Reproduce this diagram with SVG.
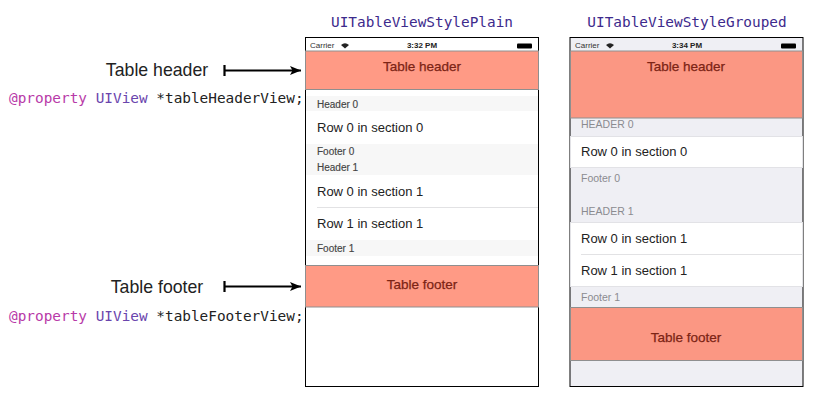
<svg xmlns="http://www.w3.org/2000/svg" width="832" height="402" viewBox="0 0 832 402">
<style>
text{font-family:"Liberation Sans",Arial,sans-serif}
.title{font-family:"DejaVu Sans Mono",monospace;font-size:14.4px;fill:#3d2a8c}
.code{font-family:"DejaVu Sans Mono",monospace;font-size:14.4px;fill:#222}
.kw{fill:#b83aa8}.ty{fill:#6a45ad}
.label{font-size:17.700px;fill:#222;text-anchor:middle}
.frame{fill:#fff;stroke:#000;stroke-width:1}
.tv{fill:#ff9a85;stroke:#8f8f8f;stroke-width:1}
.tvg{fill:#fb9783;stroke:#8f8f8f;stroke-width:1}
.tvt{font-size:13.500px;fill:#7c2415;text-anchor:middle;stroke:#7c2415;stroke-width:.25}
.row{font-size:13px;fill:#222}
.hp{font-size:10px;fill:#444;stroke:#444;stroke-width:.15}
.hg{font-size:10.500px;fill:#8b8b90}
.st{font-size:8px;fill:#333}
.stb{font-size:8px;font-weight:bold;fill:#222;text-anchor:middle}
.band{fill:#f7f7f7}
.sep{stroke:#e2e2e4;stroke-width:1}
.conn{stroke:#000;stroke-width:2.200;fill:none;marker-end:url(#arrow)}
.tick{stroke:#000;stroke-width:2.200;fill:none}
</style>
<defs>
<marker id="arrow" markerUnits="userSpaceOnUse" markerWidth="12" markerHeight="12" refX="11" refY="6" orient="auto"><path d="M0 1.500 L11 6 L0 10.500 L2.500 6 Z" fill="#000"/></marker>
</defs>
<text class="title" x="422" y="27" text-anchor="middle">UITableViewStylePlain</text>
<text class="title" x="687" y="27" text-anchor="middle">UITableViewStyleGrouped</text>
<g id="plain-phone">
<rect class="frame" x="305.500" y="37.500" width="233" height="349"/>
<text class="st" x="310" y="48">Carrier</text>
<path d="M341 45q4-3.500 8 0l-4 3.500z" fill="#222"/>
<text class="stb" x="422" y="48">3:32 PM</text>
<rect x="517" y="43.500" width="15" height="5" rx="1" fill="#000"/>
</g>
<g id="plain-table-header"><rect class="tv" x="305.500" y="51" width="233" height="38.500"/><text class="tvt" x="422" y="71">Table header</text></g>
<g id="plain-section-0">
<rect class="band" x="306" y="96" width="232" height="15"/>
<text class="hp" x="317" y="108">Header 0</text>
<text class="row" x="317" y="132">Row 0 in section 0</text>
<rect class="band" x="306" y="144" width="232" height="31"/>
<text class="hp" x="317" y="155">Footer 0</text>
</g>
<g id="plain-section-1">
<text class="hp" x="317" y="171">Header 1</text>
<text class="row" x="317" y="196">Row 0 in section 1</text>
<line class="sep" x1="317" y1="207.500" x2="538" y2="207.500"/>
<text class="row" x="317" y="228">Row 1 in section 1</text>
<rect class="band" x="306" y="240" width="232" height="16"/>
<text class="hp" x="317" y="252">Footer 1</text>
</g>
<g id="plain-table-footer"><rect class="tv" x="305.500" y="265.500" width="233" height="41.500"/><text class="tvt" x="422" y="289">Table footer</text></g>
<g id="grouped-phone">
<rect class="frame" x="570" y="37.500" width="233" height="349" style="fill:#efeff4"/>
<text class="st" x="575" y="48">Carrier</text>
<path d="M606 45q4-3.500 8 0l-4 3.500z" fill="#222"/>
<text class="stb" x="687" y="48">3:34 PM</text>
<rect x="781" y="43.500" width="15" height="5" rx="1" fill="#000"/>
</g>
<g id="grouped-table-header"><rect class="tvg" x="570.500" y="51" width="232" height="67"/><text class="tvt" x="686" y="71">Table header</text></g>
<g id="grouped-section-0">
<text class="hg" x="581" y="128">HEADER 0</text>
<rect x="570.500" y="136.500" width="232" height="31" fill="#fff" stroke="#e2e2e6"/>
<text class="row" x="581" y="156">Row 0 in section 0</text>
<text class="hg" x="581" y="182">Footer 0</text>
</g>
<g id="grouped-section-1">
<text class="hg" x="581" y="215">HEADER 1</text>
<rect x="570.500" y="222.500" width="232" height="64" fill="#fff" stroke="#e2e2e6"/>
<text class="row" x="581" y="243">Row 0 in section 1</text>
<line class="sep" x1="581" y1="254.500" x2="802" y2="254.500"/>
<text class="row" x="581" y="275">Row 1 in section 1</text>
<text class="hg" x="581" y="301">Footer 1</text>
</g>
<g id="grouped-table-footer"><rect class="tvg" x="570.500" y="307.500" width="232" height="53"/><text class="tvt" x="686" y="342">Table footer</text></g>
<g id="annotation-header">
<text class="label" x="157" y="76">Table header</text>
<text class="code" x="9" y="103"><tspan class="kw">@property</tspan> <tspan class="ty">UIView</tspan> *tableHeaderView;</text>
</g>
<g id="annotation-footer">
<text class="label" x="157" y="293">Table footer</text>
<text class="code" x="9" y="321"><tspan class="kw">@property</tspan> <tspan class="ty">UIView</tspan> *tableFooterView;</text>
</g>
<g id="connectors">
<path class="tick" d="M224.500 65V76"/>
<path class="conn" d="M225 70.500H301"/>
<path class="tick" d="M224.500 281V292"/>
<path class="conn" d="M225 286.500H301"/>
</g>
</svg>
